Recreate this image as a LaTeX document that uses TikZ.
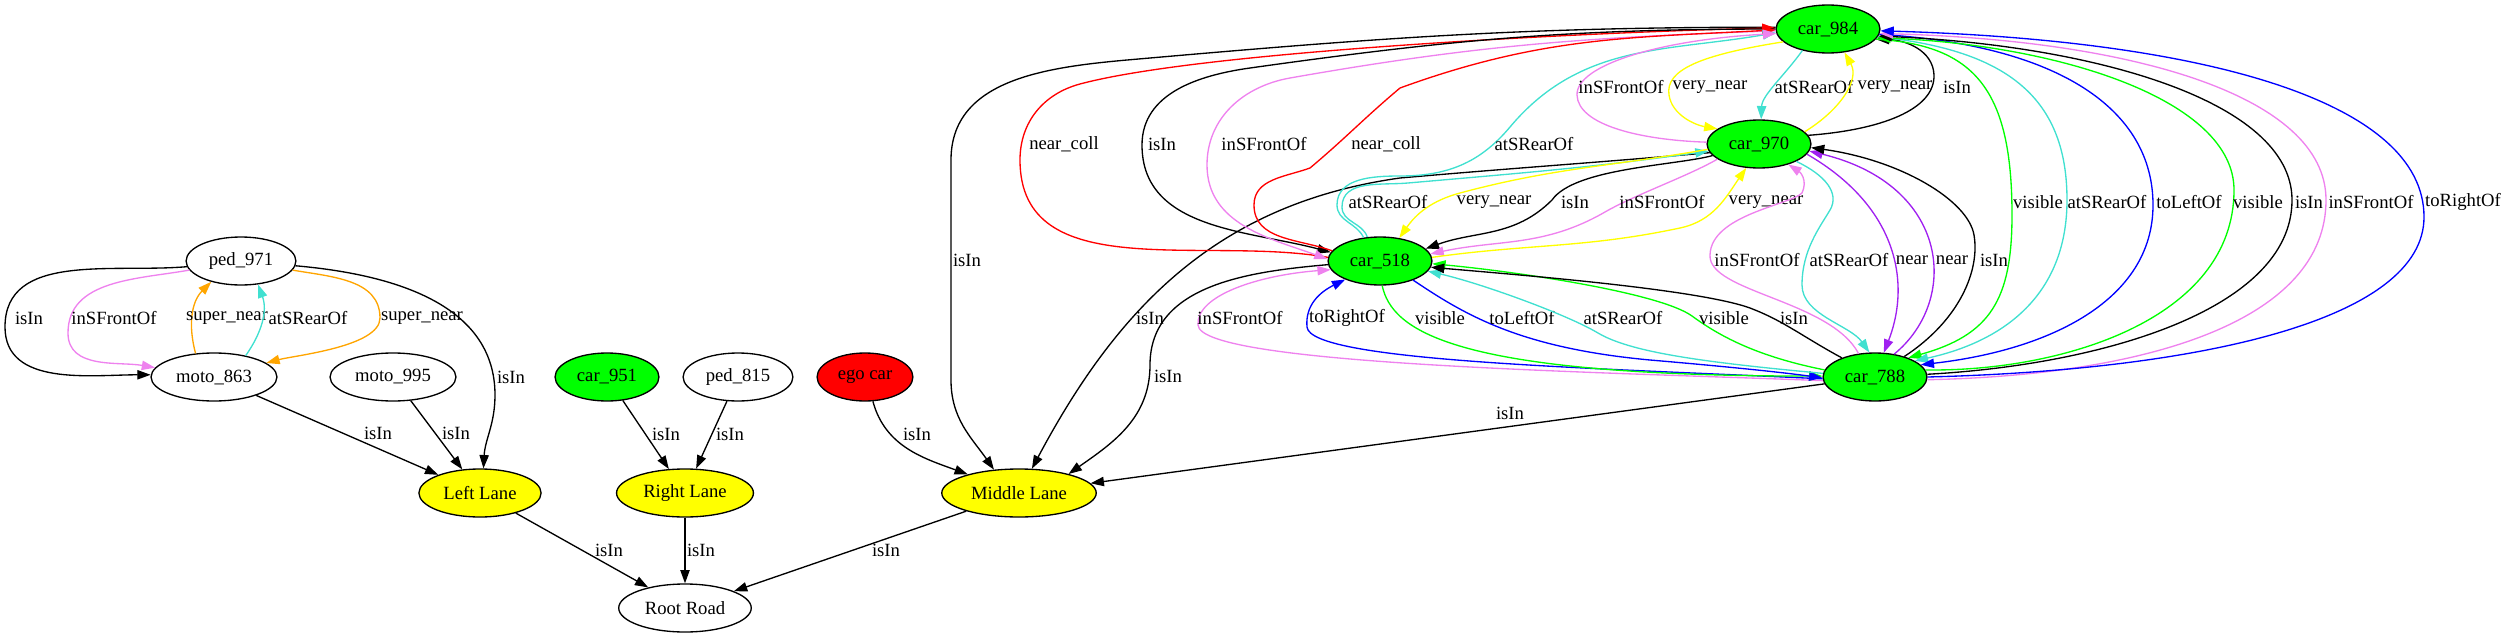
\documentclass[tikz,border=0pt]{standalone}
\usepackage{fontspec}
\setmainfont{Liberation Serif}
\usepackage{tikz}
\usetikzlibrary{shapes.geometric, arrows.meta}

\definecolor{gvgreen}{HTML}{00FF00}
\definecolor{gvyellow}{HTML}{FFFF00}
\definecolor{gvred}{HTML}{FF0000}
\definecolor{gvviolet}{HTML}{EE82EE}
\definecolor{gvorange}{HTML}{FFA500}
\definecolor{gvturq}{HTML}{40E0D0}
\definecolor{gvpurple}{HTML}{A020F0}
\definecolor{gvblue}{HTML}{0000FF}

\tikzset{
  obj/.style={ellipse, draw, line width=1pt, minimum height=36pt, inner xsep=5pt, inner ysep=2pt, font=\fontsize{14}{16}\selectfont},
  carobj/.style={obj, fill=gvgreen},
  laneobj/.style={obj, fill=gvyellow},
  egoobj/.style={obj, fill=gvred},
  rel/.style={-{Triangle[length=10pt,width=7pt]}, line width=1pt},
  lbl/.style={font=\fontsize{14}{16}\selectfont, text=black, inner sep=0pt},
}

\begin{document}
\begin{tikzpicture}[x=0.75pt, y=0.75pt]
\useasboundingbox (0,0) rectangle (2503,-639);

\node[obj] (ped971) at (241,-261) {ped\_971};
\node[obj] (moto863) at (214,-377) {moto\_863};
\node[obj] (moto995) at (393,-377) {moto\_995};
\node[carobj] (car951) at (607,-377) {car\_951};
\node[obj] (ped815) at (738,-377) {ped\_815};
\node[egoobj] (egocar) at (865,-377) {ego car};
\node[laneobj] (leftlane) at (480,-493) {Left Lane};
\node[laneobj] (rightlane) at (685,-493) {Right Lane};
\node[laneobj] (midlane) at (1019,-493) {Middle Lane};
\node[obj] (rootroad) at (685,-608) {Root Road};
\node[carobj] (car518) at (1380,-261) {car\_518};
\node[carobj] (car970) at (1759,-144) {car\_970};
\node[carobj] (car984) at (1828,-29) {car\_984};
\node[carobj] (car788) at (1875,-377) {car\_788};

% left group
\draw[rel] (ped971.186) to[out=185,in=90] (5,-327) to[out=-90,in=180] (moto863.178) node[lbl, at={(29,-318)}] {isIn};
\draw[rel, gvviolet] (ped971.190) to[out=190,in=90] (68,-333) to[out=-90,in=170] (moto863.171) node[lbl, at={(114,-318)}] {inSFrontOf};
\draw[rel, gvorange] (moto863.128) to[out=105,in=225] (ped971.215) node[lbl, at={(227,-318)}] {super\_near};
\draw[rel, gvturq] (moto863.34) to[out=55,in=-70] (ped971.-54) node[lbl, at={(308,-318)}] {atSRearOf};
\draw[rel, gvorange] (ped971.-10) to[out=-10,in=90] (380,-318) to[out=-90,in=15,looseness=0.6] (moto863.15) node[lbl, at={(422,-318)}] {super\_near};
\draw[rel] (ped971.-5) to[out=-5,in=90] (495,-395) to[out=-90,in=87] (leftlane.82) node[lbl, at={(511,-377)}] {isIn};
\draw[rel] (moto863) -- (leftlane) node[lbl, at={(378,-433)}] {isIn};
\draw[rel] (moto995) -- (leftlane) node[lbl, at={(456,-433)}] {isIn};
\draw[rel] (car951) -- (rightlane) node[lbl, at={(666,-434)}] {isIn};
\draw[rel] (ped815) -- (rightlane) node[lbl, at={(730,-434)}] {isIn};
\draw[rel] (egocar.-72) to[out=-75,in=160] (midlane.160) node[lbl, at={(917,-434)}] {isIn};
\draw[rel] (leftlane) -- (rootroad) node[lbl, at={(609,-550)}] {isIn};
\draw[rel] (rightlane) -- (rootroad) node[lbl, at={(701,-550)}] {isIn};
\draw[rel] (midlane) -- (rootroad) node[lbl, at={(886,-550)}] {isIn};

% cars into the middle lane
\draw[rel] (car984.178) to[out=180,in=5] (1150,-58) to[out=185,in=90] (951,-160) -- (951,-380) to[out=-90,in=125] (midlane.137) node[lbl, at={(967,-260)}] {isIn};
\draw[rel] (car970.190) to[out=185,in=5] (1400,-178) to[out=188,in=62] (midlane.62) node[lbl, at={(1150,-318)}] {isIn};
\draw[rel] (car518.184) to[out=185,in=90] (1150,-365) to[out=-90,in=35] (midlane.21) node[lbl, at={(1168,-376)}] {isIn};
\draw[rel] (car788) -- (midlane) node[lbl, at={(1510,-413)}] {isIn};

% car518 and car984
\draw[rel, gvred] (car518.176) to[out=170,in=-90] (1020,-160) to[out=90,in=195] (1080,-84) to[out=15,in=181,looseness=0.5] (car984.179) node[lbl, at={(1064,-144)}] {near\_coll};
\draw[rel] (car984.180) to[out=180,in=8] (1250,-68) to[out=188,in=90] (1142,-145) to[out=-90,in=165] (car518.170) node[lbl, at={(1162,-144)}] {isIn};
\draw[rel, gvviolet] (car984.182) to[out=182,in=10] (1290,-78) to[out=190,in=90] (1207,-165) to[out=-90,in=160] (car518.178) node[lbl, at={(1264,-144)}] {inSFrontOf};
\draw[rel, gvred] (car518.168) to[out=160,in=-90] (1254,-205) to[out=90,in=200] (1310,-168) to[out=40,in=220] (1400,-88) to[out=20,in=183] (car984.181) node[lbl, at={(1386,-144)}] {near\_coll};
\draw[rel, gvturq] (car518.125) to[out=115,in=-90] (1337,-205) to[out=90,in=180] (1400,-176) to[out=0,in=230] (1510,-127) to[out=50,in=190] (car984.184) node[lbl, at={(1534,-144)}] {atSRearOf};

% car518 and car970
\draw[rel, gvturq] (car518.118) to[out=108,in=-90] (1342,-207) to[out=90,in=185] (1408,-183) to[out=5,in=188] (car970.188) node[lbl, at={(1388,-202)}] {atSRearOf};
\draw[rel, gvyellow] (car970.186) to[out=190,in=15] (1460,-193) to[out=195,in=55] (car518.50) node[lbl, at={(1494,-202)}] {very\_near};
\draw[rel] (car970.194) to[out=195,in=55,looseness=0.6] (1552,-200) to[out=225,in=20] (car518.15) node[lbl, at={(1575,-202)}] {isIn};
\draw[rel, gvviolet] (car970.200) to[out=210,in=30,looseness=0.7] (1605,-212) to[out=210,in=12] (car518.8) node[lbl, at={(1662,-202)}] {inSFrontOf};
\draw[rel, gvyellow] (car518.4) to[out=8,in=192] (1680,-228) to[out=12,in=235] (car970.-118) node[lbl, at={(1766,-202)}] {very\_near};

% car970 and car984
\draw[rel, gvyellow] (car984.196) .. controls (1700,-55) and (1665,-70) .. (1669,-95) .. controls (1672,-115) and (1695,-125) .. (car970.160) node[lbl, at={(1710,-87)}] {very\_near};
\draw[rel, gvviolet] (car970.178) .. controls (1640,-140) and (1578,-125) .. (1577,-95) .. controls (1576,-65) and (1660,-40) .. (car984.185) node[lbl, at={(1621,-87)}] {inSFrontOf};
\draw[rel, gvturq] (car984.-140) .. controls (1785,-75) and (1762,-95) .. (car970.85) node[lbl, at={(1814,-87)}] {atSRearOf};
\draw[rel, gvyellow] (car970.15) .. controls (1840,-110) and (1860,-80) .. (car984.-55) node[lbl, at={(1895,-87)}] {very\_near};
\draw[rel] (car970.10) .. controls (1880,-130) and (1935,-110) .. (1934,-75) .. controls (1933,-50) and (1905,-40) .. (car984.-12) node[lbl, at={(1957,-87)}] {isIn};

% car970 and car788
\draw[rel, gvviolet] (car788.125) .. controls (1830,-300) and (1708,-292) .. (1710,-255) .. controls (1711,-215) and (1790,-205) .. (1802,-193) .. controls (1808,-180) and (1800,-172) .. (car970.-35) node[lbl, at={(1757,-260)}] {inSFrontOf};
\draw[rel, gvturq] (car970.-25) .. controls (1825,-175) and (1840,-193) .. (1830,-210) .. controls (1820,-227) and (1802,-250) .. (1802,-285) .. controls (1802,-315) and (1850,-325) .. (car788.103) node[lbl, at={(1849,-260)}] {atSRearOf};
\draw[rel, gvpurple] (car970.-12) .. controls (1895,-205) and (1912,-280) .. (car788.70) node[lbl, at={(1912,-260)}] {near};
\draw[rel, gvpurple] (car788.50) .. controls (1960,-300) and (1950,-185) .. (car970.-8) node[lbl, at={(1952,-260)}] {near};
\draw[rel] (car788.35) .. controls (1960,-320) and (1980,-270) .. (1974,-235) .. controls (1968,-200) and (1900,-160) .. (car970.-4) node[lbl, at={(1994,-260)}] {isIn};

% car984 and car788
\draw[rel, gvgreen] (car984.-12) .. controls (1975,-45) and (2012,-90) .. (2012,-215) .. controls (2012,-300) and (1990,-335) .. (car788.30) node[lbl, at={(2038,-202)}] {visible};
\draw[rel, gvturq] (car984.-9) .. controls (2010,-50) and (2067,-100) .. (2067,-200) .. controls (2067,-290) and (2010,-340) .. (car788.22) node[lbl, at={(2107,-202)}] {atSRearOf};
\draw[rel, gvblue] (car984.-6) .. controls (2060,-45) and (2153,-110) .. (2153,-205) .. controls (2153,-300) and (2050,-350) .. (car788.15) node[lbl, at={(2189,-202)}] {toLeftOf};
\draw[rel, gvgreen] (car788.8) .. controls (2060,-372) and (2234,-320) .. (2234,-190) .. controls (2234,-100) and (2060,-45) .. (car984.-10) node[lbl, at={(2258,-202)}] {visible};
\draw[rel] (car788.3) .. controls (2100,-365) and (2292,-310) .. (2292,-200) .. controls (2292,-100) and (2090,-45) .. (car984.-8) node[lbl, at={(2309,-202)}] {isIn};
\draw[rel, gvviolet] (car788.-3) .. controls (2150,-375) and (2326,-320) .. (2326,-200) .. controls (2326,-95) and (2130,-40) .. (car984.-5) node[lbl, at={(2371,-202)}] {inSFrontOf};
\draw[rel, gvblue] (car788.0) .. controls (2200,-370) and (2424,-320) .. (2424,-217) .. controls (2424,-100) and (2200,-40) .. (car984.-2) node[lbl, at={(2463,-202)}] {toRightOf};

% car518 and car788
\draw[rel, gvviolet] (car788.184) .. controls (1600,-372) and (1200,-365) .. (1198,-325) .. controls (1196,-295) and (1260,-275) .. (car518.190) node[lbl, at={(1240,-318)}] {inSFrontOf};
\draw[rel, gvblue] (car788.182) .. controls (1600,-368) and (1310,-362) .. (1307,-327) .. controls (1305,-305) and (1320,-292) .. (car518.208) node[lbl, at={(1347,-318)}] {toRightOf};
\draw[rel, gvgreen] (car518.-85) .. controls (1392,-330) and (1450,-376) .. (car788.179) node[lbl, at={(1440,-318)}] {visible};
\draw[rel, gvblue] (car518.-30) .. controls (1465,-315) and (1520,-348) .. (1650,-360) .. controls (1720,-366) and (1780,-372) .. (car788.181) node[lbl, at={(1522,-318)}] {toLeftOf};
\draw[rel, gvturq] (car788.176) .. controls (1700,-362) and (1630,-352) .. (1598,-333) .. controls (1566,-314) and (1480,-283) .. (car518.-12) node[lbl, at={(1623,-318)}] {atSRearOf};
\draw[rel, gvgreen] (car788.172) .. controls (1760,-357) and (1722,-338) .. (1692,-316) .. controls (1660,-293) and (1520,-272) .. (car518.-3) node[lbl, at={(1724,-318)}] {visible};
\draw[rel] (car788.150) .. controls (1805,-338) and (1785,-322) .. (1755,-310) .. controls (1710,-290) and (1520,-275) .. (car518.-7) node[lbl, at={(1794,-318)}] {isIn};
\end{tikzpicture}
\end{document}
